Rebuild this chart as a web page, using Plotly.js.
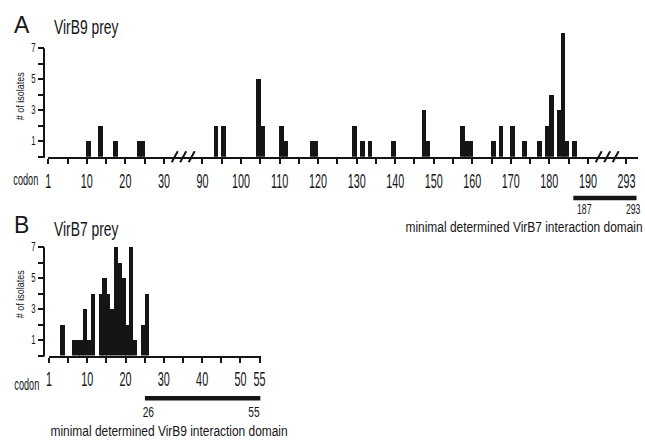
<!DOCTYPE html>
<html><head><meta charset="utf-8">
<script src="https://cdn.plot.ly/plotly-3.0.1.min.js"></script>
<style>html,body{margin:0;padding:0;background:#fff}</style>
</head><body><div id="chart" style="width:645px;height:443px"></div>
<script>
// ---------- DATA ----------
// Panel A: VirB9 prey
const codonsA   = [10,13,17,23,24,93,95,104,105,110,111,118,119,129,131,133,139,147,148,157,158,159,165,167,170,173,177,179,180,182,183,184,186];
const isolatesA = [ 1, 2, 1, 1, 1, 2, 2,  5,  2,  2,  1,  1,  1,  2,  1,  1,  1,  3,  1,  2,  1,  1,  1,  2,  2,  1,  1,  2,  4,  3,  8,  1,  1];
const tickCodonsA = [0,5,10,15,20,25,30,90,95,100,105,110,115,120,125,130,135,140,145,150,155,160,165,170,175,180,185,190,293];
const tickLabelsA = ['1','','10','','20','','30','90','','100','','110','','120','','130','','140','','150','','160','','170','','180','','190','293'];
const breaksA = [[30,90],[190,293]];
const domainA = [187,293];
// Panel B: VirB7 prey
const codonsB   = [3,6,7,8,9,10,11,13,14,15,16,17,18,19,20,21,22,24,25];
const isolatesB = [2,1,1,1,3, 1, 4, 4, 5, 4, 3, 7, 6, 5, 2, 7, 1, 2, 4];
const tickCodonsB = [0,5,10,15,20,25,30,35,40,45,50,55];
const tickLabelsB = ['1','','10','','20','','30','','40','','50','55'];
const domainB = [26,55];
const yTickVals = [0,1,2,3,4,5,6,7];
const yTickLabels = ['','1','','3','','5','','7'];

// ---------- GEOMETRY / STYLE ----------
const W = 645, H = 443;
const FONT = 'Liberation Sans, Arial, sans-serif';
const INK = '#151515';
const A = {x0:48.3, x1:638, xr:[0,153], yBase:156.7, unit:15.5, yr:[0,8.2], yAxisX:44};
const B = {x0:49, x1:260.7, xr:[0,55.3], yBase:355.5, unit:15.46, yr:[0,7.3], yAxisX:44};
// broken axis in panel A: codon -> axis position
function dispA(c){ if (c <= 35) return c; if (c <= 195) return c - 50; return c - 143; }
const pX = px => px / W, pY = py => 1 - py / H;
const pxOf = (P, d) => P.x0 + (d - P.xr[0]) / (P.xr[1] - P.xr[0]) * (P.x1 - P.x0);
const pyOf = (P, v) => P.yBase - v * P.unit;

const traces = [
  {type:'bar', x: codonsA.map(c => dispA(c) + 0.5), y: isolatesA, width: 1.2,
   marker:{color:INK, line:{width:0}}, xaxis:'x', yaxis:'y', hoverinfo:'skip'},
  {type:'bar', x: codonsB.map(c => c + 0.5), y: isolatesB, width: 1.1,
   marker:{color:INK, line:{width:0}}, xaxis:'x2', yaxis:'y2', hoverinfo:'skip'}
];

function xAx(P, vals, text, anchor){
  return {domain:[pX(P.x0), pX(P.x1)], range:P.xr, anchor:anchor, showline:true, linewidth:2, linecolor:INK,
    ticks:'outside', ticklen:5, tickwidth:2, tickcolor:INK, tickmode:'array', tickvals:vals, ticktext:text,
    tickangle:0, tickfont:{size:20, color:INK, family:FONT}, showgrid:false, zeroline:false, fixedrange:true, automargin:false};
}
function yAx(P){
  return {domain:[pY(P.yBase), pY(P.yBase - (P.yr[1]) * P.unit)], range:P.yr, anchor:'free', position:pX(P.yAxisX),
    showline:false, ticks:'outside', ticklen:6, tickwidth:2, tickcolor:INK, tickmode:'array', tickangle:0,
    tickvals:yTickVals, ticktext:yTickLabels, tickfont:{size:12, color:INK, family:FONT},
    showgrid:false, zeroline:false, fixedrange:true, automargin:false};
}

const shapes = [];
// y axis lines (0..7)
[A, B].forEach(P => shapes.push({type:'line', xref:'paper', yref:'paper', x0:pX(P.yAxisX), x1:pX(P.yAxisX),
  y0:pY(pyOf(P,0)+1), y1:pY(pyOf(P,7)), line:{color:INK, width:2}}));
// axis break marks
breaksA.forEach(([a, b]) => {
  const mid = (dispA(a) + dispA(b)) / 2;
  [-2.2, 0, 2.2].forEach(o => {
    const cx = pxOf(A, mid + o);
    shapes.push({type:'line', xref:'paper', yref:'paper', x0:pX(cx - 3), x1:pX(cx + 3),
      y0:pY(A.yBase + 5.5), y1:pY(A.yBase - 5.5), line:{color:INK, width:2}});
  });
});
// minimal interaction domain bars
shapes.push({type:'line', xref:'paper', yref:'paper', x0:pX(pxOf(A, dispA(domainA[0])) - 3), x1:pX(A.x1 - 1.5),
  y0:pY(198), y1:pY(198), line:{color:INK, width:4.5}});
shapes.push({type:'line', xref:'paper', yref:'paper', x0:pX(pxOf(B, domainB[0]) - 3.6), x1:pX(pxOf(B, domainB[1]) + 0.8),
  y0:pY(398.3), y1:pY(398.3), line:{color:INK, width:4.5}});

const annotations = [], annStyle = [];
function ann(text, x, y, size, xanchor, f, rot){
  annotations.push({text:text, xref:'paper', yref:'paper', x:pX(x), y:pY(y), xanchor:xanchor, yanchor:'middle',
    showarrow:false, font:{size:size, color:INK, family:FONT}, borderpad:0});
  annStyle.push({f:f, rot:rot || 0, anchor:{left:'start', right:'end', center:'middle'}[xanchor]});
}
ann('A', 22, 25, 23, 'center', 1);
ann('VirB9 prey', 53, 26, 21, 'left', 0.66);
ann('# of isolates', 19, 96, 11, 'center', 0.82, -90);
ann('codon', 25.8, 179.5, 16, 'center', 0.57);
ann(String(domainA[0]), pxOf(A, dispA(domainA[0])), 209.5, 14, 'left', 0.62);
ann(String(domainA[1]), 642, 209.5, 14, 'right', 0.62);
ann('minimal determined VirB7 interaction domain', 523.5, 226.5, 15.5, 'center', 0.77);
ann('B', 21.7, 225, 23, 'center', 1);
ann('VirB7 prey', 53.3, 228.3, 21, 'left', 0.66);
ann('# of isolates', 19, 294, 11, 'center', 0.82, -90);
ann('codon', 26.5, 384.5, 16, 'center', 0.57);
ann(String(domainB[0]), pxOf(B, domainB[0]), 411, 15, 'center', 0.68);
ann(String(domainB[1]), 261, 411, 15, 'right', 0.68);
ann('minimal determined VirB9 interaction domain', 169, 430, 15.5, 'center', 0.77);

const layout = {
  width:W, height:H, margin:{l:0, r:0, t:0, b:0}, paper_bgcolor:'#fff', plot_bgcolor:'rgba(0,0,0,0)',
  showlegend:false, bargap:0, font:{family:FONT, color:INK},
  xaxis: xAx(A, tickCodonsA.map(dispA), tickLabelsA, 'y'),
  yaxis: yAx(A),
  xaxis2: xAx(B, tickCodonsB, tickLabelsB, 'y2'),
  yaxis2: yAx(B),
  shapes: shapes, annotations: annotations
};

// condensed lettering: compress text horizontally around its anchor (optionally rotate about its centre)
function sq(el, f, anchor, rot){
  const prev = el.getAttribute('data-sq') || '';
  let t = el.getAttribute('transform') || '';
  if (prev && t.endsWith(prev)) t = t.slice(0, t.length - prev.length);
  const bb = el.getBBox();
  let suf;
  if (rot) {
    const cx = bb.x + bb.width / 2, cy = bb.y + bb.height / 2;
    suf = ' translate(' + cx + ',' + cy + ') rotate(' + rot + ') scale(' + f + ',1) translate(' + (-cx) + ',' + (-cy) + ')';
  } else {
    const ax = anchor === 'start' ? bb.x : anchor === 'end' ? bb.x + bb.width : bb.x + bb.width / 2;
    suf = ' translate(' + ax + ',0) scale(' + f + ',1) translate(' + (-ax) + ',0)';
  }
  el.setAttribute('transform', t + suf);
  el.setAttribute('data-sq', suf);
}
function condense(gd){
  gd.querySelectorAll('g.xtick text, g.x2tick text').forEach(el => sq(el, 0.54, 'middle'));
  gd.querySelectorAll('g.ytick text, g.y2tick text').forEach(el => sq(el, 0.65, 'end'));
  gd.querySelectorAll('g.annotation').forEach(g => {
    const s = annStyle[+g.getAttribute('data-index')];
    const el = g.querySelector('text.annotation-text');
    if (s && el && (s.f !== 1 || s.rot)) sq(el, s.f, s.anchor, s.rot);
  });
}
Plotly.newPlot('chart', traces, layout, {staticPlot:true, displayModeBar:false}).then(gd => {
  condense(gd);
  gd.on && gd.on('plotly_afterplot', () => condense(gd));
});
</script></body></html>
